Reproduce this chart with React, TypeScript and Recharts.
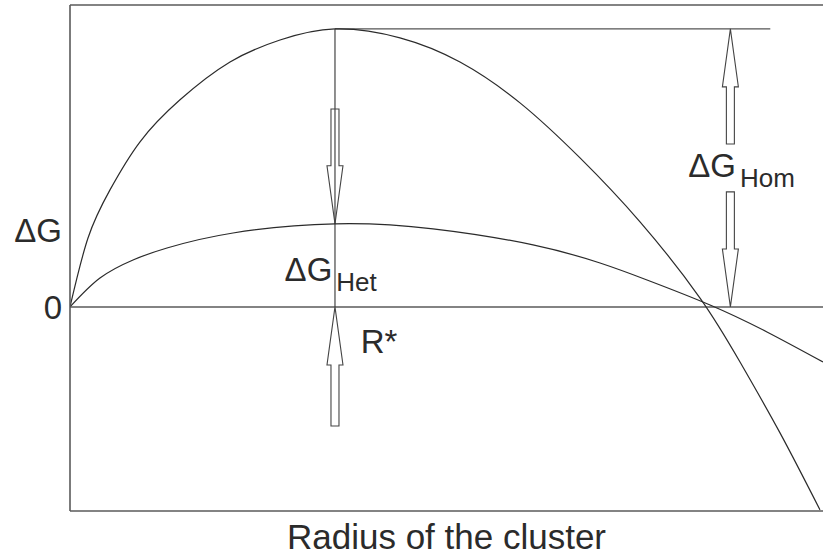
import {
  ComposedChart,
  Line,
  XAxis,
  YAxis,
  ReferenceLine,
  ReferenceDot,
  Label,
} from 'recharts'

// Free energy of a cluster versus its radius (arbitrary units)
const homRadius = [0, 2.39, 5.31, 9.3, 14.61, 21.25, 27.89, 35.19, 43.82, 51.79, 59.76, 67.73, 75.7, 83.67, 88.98, 94.29, 99.6]
const homEnergy = [0, 0.248, 0.421, 0.594, 0.745, 0.881, 0.96, 1, 0.968, 0.881, 0.734, 0.536, 0.306, 0.032, -0.198, -0.453, -0.73]

const hetRadius = [0, 3.98, 8.37, 12.88, 21.65, 35.19, 48.21, 61.49, 70.39, 76.63, 85, 92.56, 100]
const hetEnergy = [0, 0.104, 0.169, 0.212, 0.266, 0.299, 0.281, 0.223, 0.158, 0.097, 0.007, -0.09, -0.198]

// critical radius and the barrier levels
const criticalRadius = 35.19
const homBarrier = 1
const hetBarrier = 0.299
const homArrowX = 87.7
const barrierLineEnd = 93

// hollow arrows: [fromX, fromY, toX, toY], the arrow points at the second pair
const arrows = [
  [criticalRadius, 0.712, criticalRadius, hetBarrier],
  [criticalRadius, -0.428, criticalRadius, 0],
  [homArrowX, 0.586, homArrowX, homBarrier],
  [homArrowX, 0.414, homArrowX, 0],
]

// text annotations: [x, y, main, subscript]
const annotations = [
  [28.5, 0.094, 'ΔG', 'Het'],
  [82.1, 0.468, 'ΔG', 'Hom'],
  [38.6, -0.165, 'R*', ''],
]

const yTicks = [0, 0.277]
const yDomain = [-0.734, 1.086]

const FONT = '"Liberation Sans", Arial, Helvetica, sans-serif'
const INK = '#2b2b2b'
const FRAME = '#5a5a5a'

const homData = homRadius.map((r, i) => ({ r, g: homEnergy[i] }))
const hetData = hetRadius.map((r, i) => ({ r, g: hetEnergy[i] }))

function HollowArrow(props: any) {
  const { x1, y1, x2, y2 } = props
  const len = Math.hypot(x2 - x1, y2 - y1) || 1
  const dx = (x2 - x1) / len
  const dy = (y2 - y1) / len
  const nx = -dy
  const ny = dx
  const head = 58
  const shaft = 4
  const wing = 8
  const hx = x2 - dx * head
  const hy = y2 - dy * head
  const pts = [
    [x1 + nx * shaft, y1 + ny * shaft],
    [hx + nx * shaft, hy + ny * shaft],
    [hx + nx * wing, hy + ny * wing],
    [x2, y2],
    [hx - nx * wing, hy - ny * wing],
    [hx - nx * shaft, hy - ny * shaft],
    [x1 - nx * shaft, y1 - ny * shaft],
  ]
  return (
    <polygon
      points={pts.map((p) => p.join(',')).join(' ')}
      fill="none"
      stroke="#444"
      strokeWidth={1.1}
      strokeLinejoin="miter"
    />
  )
}

function AnnotationText(props: any) {
  const { cx, cy, main, sub } = props
  return (
    <text x={cx} y={cy} fontFamily={FONT} fontSize={33} fill={INK}>
      {main}
      {sub ? (
        <tspan fontSize={26} dx={4} dy={10}>
          {sub}
        </tspan>
      ) : null}
    </text>
  )
}

export default function App() {
  return (
    <div style={{ position: 'absolute', left: 0, top: 0, width: 823, height: 559, background: '#fff', fontFamily: FONT }}>
      <ComposedChart width={823} height={559} margin={{ top: 5, right: 0, left: 0, bottom: 0 }}>
        <XAxis
          type="number"
          dataKey="r"
          domain={[0, 100]}
          allowDataOverflow
          tick={false}
          tickLine={false}
          height={48}
          axisLine={{ stroke: FRAME, strokeWidth: 1.6 }}
        >
          <Label
            value="Radius of the cluster"
            position="insideBottom"
            offset={10}
            style={{ fontSize: 35, fill: INK, fontFamily: FONT }}
          />
        </XAxis>
        <YAxis
          type="number"
          domain={yDomain}
          allowDataOverflow
          ticks={yTicks}
          interval={0}
          width={70}
          tickLine={false}
          tickSize={0}
          tickMargin={8}
          tickFormatter={(v: number) => (v === 0 ? '0' : 'ΔG')}
          tick={{ fontSize: 33, fill: INK, fontFamily: FONT }}
          axisLine={{ stroke: FRAME, strokeWidth: 1.6 }}
        />

        {/* frame top and zero level */}
        <ReferenceLine y={yDomain[1]} stroke={FRAME} strokeWidth={1.6} />
        <ReferenceLine y={0} stroke={FRAME} strokeWidth={1.4} />

        {/* barrier markers */}
        <ReferenceLine
          segment={[{ x: criticalRadius, y: homBarrier }, { x: criticalRadius, y: 0 }]}
          stroke="#444"
          strokeWidth={1.2}
        />
        <ReferenceLine
          segment={[{ x: criticalRadius, y: homBarrier }, { x: barrierLineEnd, y: homBarrier }]}
          stroke="#555"
          strokeWidth={1.4}
        />

        {arrows.map(([ax1, ay1, ax2, ay2], i) => (
          <ReferenceLine
            key={`arrow-${i}`}
            segment={[{ x: ax1, y: ay1 }, { x: ax2, y: ay2 }]}
            shape={(p: any) => <HollowArrow {...p} />}
          />
        ))}

        <Line
          data={homData}
          dataKey="g"
          type="natural"
          stroke={INK}
          strokeWidth={1.2}
          dot={false}
          activeDot={false}
          isAnimationActive={false}
        />
        <Line
          data={hetData}
          dataKey="g"
          type="natural"
          stroke={INK}
          strokeWidth={1.2}
          dot={false}
          activeDot={false}
          isAnimationActive={false}
        />

        {annotations.map(([x, y, main, sub], i) => (
          <ReferenceDot
            key={`label-${i}`}
            x={x as number}
            y={y as number}
            r={0}
            shape={(p: any) => <AnnotationText {...p} main={main} sub={sub} />}
          />
        ))}
      </ComposedChart>
    </div>
  )
}
